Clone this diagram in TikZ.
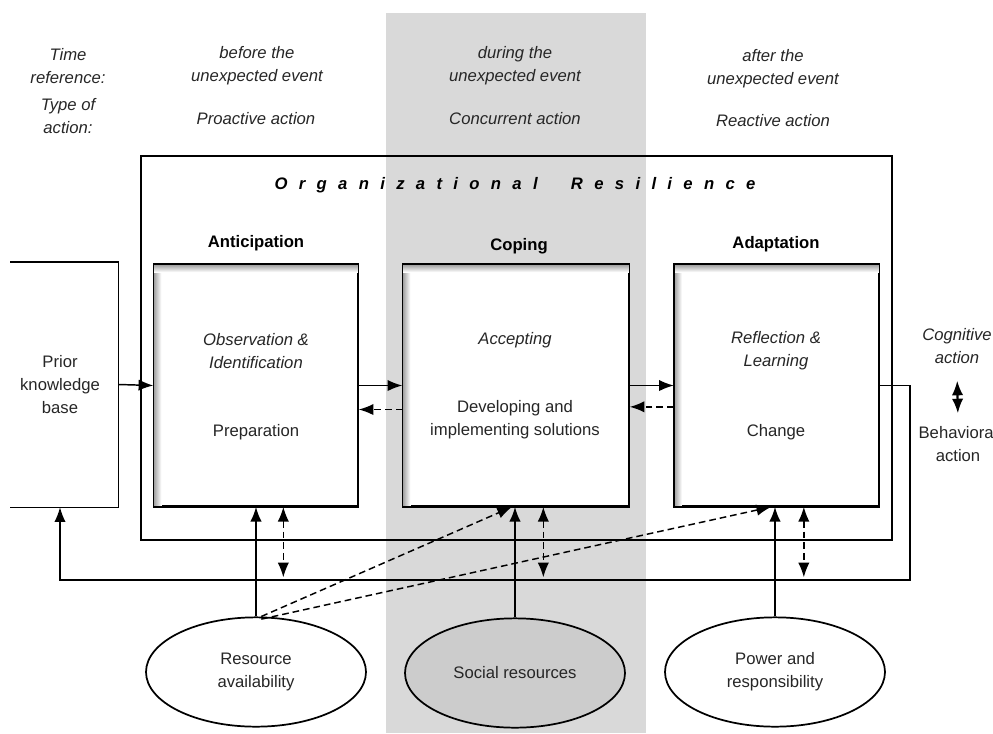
\documentclass[tikz,border=0pt]{standalone}
\usepackage{fontspec}
\setmainfont{Liberation Sans}
\usetikzlibrary{arrows.meta,shapes.geometric}

\begin{document}
\begin{tikzpicture}[x=0.75pt,y=-0.75pt,>={Latex[length=11pt,width=8.5pt]},line width=1.1pt,
		font=\fontsize{12.5}{17}\selectfont]
	\tikzset{phasebox/.style={draw,minimum width=153pt,minimum height=181pt,inner sep=0pt},
		head/.style={font=\fontsize{12.5}{17}\selectfont\bfseries},
		note/.style={font=\fontsize{12.5}{17}\selectfont\itshape,align=center,text=black!85},
		plain/.style={align=center,text=black!85},
		source/.style={draw,ellipse,line width=1.3pt,minimum width=165pt,minimum height=82pt,align=center,text=black!85},
		dashes/.style={dash pattern=on 5pt off 3pt},
		feed/.style={->,dashes}}
	\useasboundingbox (0,0) rectangle (993,733);
	\clip (0,0) rectangle (993,733);
	% the "during" column
	\fill[black!15] (386,13) rectangle (646,733);
	% time reference and type of action
	\node[note] (timeref) at (68,66) {Time\\reference:};
	\node[note] (acttype) at (68,116) {Type of\\action:};
	\node[note] (before) at (257,66) {before the\\unexpected event};
	\node[note] (during) at (515,66) {during the\\unexpected event};
	\node[note] (after) at (773,69) {after the\\unexpected event};
	\node[note] (proact) at (256,119) {Proactive action};
	\node[note] (concur) at (515,119) {Concurrent action};
	\node[note] (react) at (773,121) {Reactive action};
	% organizational resilience frame
	\draw (141,156) rectangle (892,540);
	\node[font=\fontsize{12.5}{17}\selectfont\bfseries\itshape\addfontfeature{LetterSpace=68}] (orgres) at (515,185) {Organizational\qquad Resilience};
	% the three phases
	\node[head] (anticT) at (256,243) {Anticipation};
	\node[head] (copT) at (519,246) {Coping};
	\node[head] (adaptT) at (776,244) {Adaptation};
	\node[phasebox,fill=white] (antic) at (256,385.5) {};
	\node[phasebox,fill=white,minimum width=169.5pt] (cop) at (516,385.5) {};
	\node[phasebox,fill=white] (adapt) at (776.5,385.5) {};
	\foreach \b in {antic,cop,adapt}{
			\shade[left color=black!40,right color=white] (\b.north west) rectangle ([xshift=6pt]\b.south west);
			\shade[top color=black!40,bottom color=white] (\b.north west) rectangle ([yshift=-6pt]\b.north east);
			\draw (\b.north west) rectangle (\b.south east);}
	\node[note] (anticC) at (256,351) {Observation \&\\Identification};
	\node[plain] (anticB) at (256,432) {Preparation};
	\node[note] (copC) at (515,340) {Accepting};
	\node[plain] (copB) at (515,420) {Developing and\\implementing solutions};
	\node[note] (adaptC) at (776,351) {Reflection \&\\Learning};
	\node[plain] (adaptB) at (776,432) {Change};
	% prior knowledge
	\node[plain,minimum width=87pt,minimum height=183pt] (prior) at (60,384.5) {Prior\\knowledge\\base};
	\draw ([xshift=6.75pt]prior.north west) -- (prior.north east) -- (prior.south east) -- ([xshift=6.75pt]prior.south west);
	% cognitive / behavioral
	\node[note] (cogn) at (957,346) {Cognitive\\action};
	\node[plain] (behav) at (958,444) {Behavioral\\action};
	\draw[<->,line width=1.6pt,shorten <=9pt,shorten >=6pt] (cogn.south) -- (behav.north);
	% resources
	\node[source] (res) at (256,672) {Resource\\availability};
	\node[source,fill=black!20] (soc) at (515,673) {Social resources};
	\node[source] (pow) at (775,672) {Power and\\responsibility};
	% arrows between the phases
	\draw[->] (prior.east) -- (antic.west);
	\draw[->] (antic.east) -- (cop.west);
	\draw[->] (cop.east) -- (adapt.west);
	\draw[feed] ([yshift=-18pt]cop.west) -- ([yshift=-18pt]antic.east);
	\draw[feed] ([yshift=-16pt]adapt.west) -- ([yshift=-16pt]cop.east);
	% feedback loop
	\coordinate (loopne) at (910,385.5);
	\coordinate (loopse) at (910,580);
	\coordinate (loopsw) at (60,580);
	\draw[->] (adapt.east) -- (loopne) -- (loopse) -- (loopsw) -- (prior.south);
	\foreach \b in {antic,cop,adapt}{
			\draw[<->,dashes] ([xshift=20.5pt]\b.south) -- ([xshift=20.5pt,yshift=2pt]\b.south |- loopsw);}
	\draw[->] (res.north) -- (res.north |- antic.south);
	\draw[->] (soc.north) -- (soc.north |- cop.south);
	\draw[->] (pow.north) -- (pow.north |- adapt.south);
	\draw[feed] ([xshift=4pt]res.north) -- ([xshift=-3pt]cop.south);
	\draw[feed] ([xshift=4pt,yshift=-2pt]res.north) -- ([xshift=-4pt]adapt.south);
\end{tikzpicture}
\end{document}
